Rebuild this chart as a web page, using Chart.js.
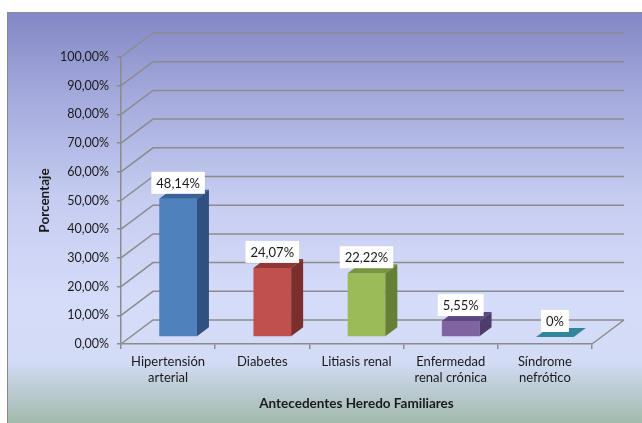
<!DOCTYPE html>
<html>
<head>
<meta charset="utf-8">
<script src="https://cdn.jsdelivr.net/npm/chart.js@4.4.1/dist/chart.umd.min.js"></script>
<style>
  html, body { margin: 0; padding: 0; background: #fff; }
  #wrap { position: relative; width: 642px; height: 423px; }
</style>
</head>
<body>
<div id="wrap"><canvas id="chart" width="642" height="423"></canvas></div>
<script>
var categorias = [['Hipertensión', 'arterial'], 'Diabetes', 'Litiasis renal', ['Enfermedad', 'renal crónica'], ['Síndrome', 'nefrótico']];
var porcentajes = [48.14, 24.07, 22.22, 5.55, 0];
var yTickValues = [0, 10, 20, 30, 40, 50, 60, 70, 80, 90, 100];

var frontColors = ['#4f81bd', '#c0504d', '#9bbb59', '#8064a2', '#4bacc6'];
var sideColors = ['#2f5080', '#7b2f2d', '#667f35', '#4e3c6b', '#2f7f93'];
var topColors = ['#3a6199', '#913836', '#779440', '#5c4880', '#31869c'];

var GRID = '#8c8c8c';
var TEXT = '#1a1a1a';
// depth of the walls and of the bars (3d look)
var DEPTH_X = 32, DEPTH_Y = -24;
var BAR_SHIFT_X = 10, BAR_SHIFT_Y = -7;
var SIDE_X = 12, SIDE_Y = -9;

function pct(v, dec) {
    return v.toFixed(dec).replace('.', ',') + '%';
}

function valueLabel(v) {
    return v === 0 ? '0%' : pct(v, 2);
}

var backdrop = {
    id: 'backdrop',
    beforeDraw: function (chart) {
        var ctx = chart.ctx, w = chart.width, h = chart.height;
        ctx.save();
        ctx.fillStyle = '#fff';
        ctx.fillRect(0, 0, w, h);
        var g = ctx.createLinearGradient(0, 12, 0, h);
        g.addColorStop(0, '#8387c5');
        g.addColorStop(0.2, '#a3a9db');
        g.addColorStop(0.45, '#c5ccf0');
        g.addColorStop(0.7, '#d5dcf9');
        g.addColorStop(0.85, '#d3dbf5');
        g.addColorStop(1, '#a2baac');
        ctx.fillStyle = g;
        ctx.fillRect(7, 12, w - 7, h - 12);
        ctx.strokeStyle = '#8a8a8a';
        ctx.lineWidth = 1;
        ctx.beginPath();
        ctx.moveTo(7.5, h);
        ctx.lineTo(7.5, 12.5);
        ctx.lineTo(w, 12.5);
        ctx.stroke();
        ctx.restore();
    }
};

var walls = {
    id: 'walls',
    beforeDatasetsDraw: function (chart) {
        var ctx = chart.ctx, a = chart.chartArea, y = chart.scales.y;
        ctx.save();
        ctx.strokeStyle = GRID;
        ctx.lineWidth = 1.5;
        ctx.beginPath();
        yTickValues.forEach(function (v) {
            var py = y.getPixelForValue(v);
            ctx.moveTo(a.left, py);
            ctx.lineTo(a.left + DEPTH_X, py + DEPTH_Y);
            ctx.lineTo(a.right + DEPTH_X, py + DEPTH_Y);
        });
        ctx.moveTo(a.right, a.bottom);
        ctx.lineTo(a.right + DEPTH_X, a.bottom + DEPTH_Y);
        ctx.stroke();
        ctx.restore();
        // bars sit a little behind the front plane
        ctx.save();
        ctx.translate(BAR_SHIFT_X, BAR_SHIFT_Y);
    },
    afterDatasetsDraw: function (chart) {
        var ctx = chart.ctx;
        var meta = chart.getDatasetMeta(0);
        meta.data.forEach(function (bar, i) {
            var p = bar.getProps(['x', 'y', 'base', 'width'], true);
            var l = p.x - p.width / 2, r = p.x + p.width / 2;
            ctx.fillStyle = sideColors[i];
            ctx.beginPath();
            ctx.moveTo(r, p.y);
            ctx.lineTo(r + SIDE_X, p.y + SIDE_Y);
            ctx.lineTo(r + SIDE_X, p.base + SIDE_Y);
            ctx.lineTo(r, p.base);
            ctx.closePath();
            ctx.fill();
            ctx.fillStyle = topColors[i];
            ctx.beginPath();
            ctx.moveTo(l, p.y);
            ctx.lineTo(l + SIDE_X, p.y + SIDE_Y);
            ctx.lineTo(r + SIDE_X, p.y + SIDE_Y);
            ctx.lineTo(r, p.y);
            ctx.closePath();
            ctx.fill();
        });
        // value labels in white boxes
        ctx.font = '13px Lato';
        ctx.textAlign = 'center';
        ctx.textBaseline = 'middle';
        meta.data.forEach(function (bar, i) {
            var p = bar.getProps(['x', 'y'], true);
            var text = valueLabel(porcentajes[i]);
            var w = ctx.measureText(text).width + 10, h = 22;
            var bottom = p.y - 5;
            ctx.fillStyle = '#fff';
            ctx.fillRect(p.x - w / 2, bottom - h, w, h);
            ctx.fillStyle = TEXT;
            ctx.fillText(text, p.x, bottom - h / 2 + 1);
        });
        ctx.restore();
    }
};

new Chart(document.getElementById('chart'), {
    type: 'bar',
    data: {
        labels: categorias,
        datasets: [{
            data: porcentajes,
            backgroundColor: frontColors,
            borderWidth: 0,
            barPercentage: 0.4,
            categoryPercentage: 1,
            clip: false
        }]
    },
    options: {
        responsive: false,
        animation: false,
        events: [],
        layout: { padding: { top: 57, right: 50, bottom: 0, left: 0 } },
        plugins: {
            legend: { display: false },
            tooltip: { enabled: false }
        },
        scales: {
            x: {
                offset: true,
                grid: { display: true, drawOnChartArea: false, drawTicks: true, tickLength: 5, offset: true, color: GRID, lineWidth: 1.5 },
                border: { display: true, color: GRID, width: 1.5 },
                ticks: { font: { family: 'Lato', size: 13 }, color: TEXT, padding: 5, maxRotation: 0, autoSkip: false },
                title: {
                    display: true,
                    text: 'Antecedentes Heredo Familiares',
                    color: TEXT,
                    font: { family: 'Lato', size: 13.5, weight: 'bold' },
                    padding: { top: 0, bottom: 11 }
                },
                afterFit: function (s) { s.height = 79; }
            },
            y: {
                min: 0,
                max: 100,
                afterBuildTicks: function (s) {
                    s.ticks = yTickValues.map(function (v) { return { value: v }; });
                },
                grid: { display: true, drawOnChartArea: false, drawTicks: true, tickLength: 4, color: GRID, lineWidth: 1.5 },
                border: { display: true, color: GRID, width: 1.5 },
                ticks: {
                    font: { family: 'Lato', size: 12.5 },
                    color: TEXT,
                    padding: 8,
                    callback: function (v) { return pct(v, 2); }
                },
                title: {
                    display: true,
                    text: 'Porcentaje',
                    color: TEXT,
                    font: { family: 'Lato', size: 13.5, weight: 'bold' },
                    padding: { top: 37, bottom: 0 }
                },
                afterFit: function (s) { s.width = 121; }
            }
        }
    },
    plugins: [backdrop, walls]
});
</script>
</body>
</html>
